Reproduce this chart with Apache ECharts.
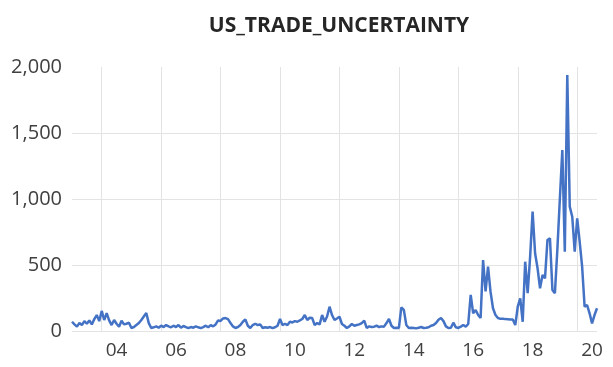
<!DOCTYPE html>
<html>
<head>
<meta charset="utf-8">
<script src="https://cdn.jsdelivr.net/npm/echarts@6/dist/echarts.min.js"></script>
<style>
html,body{margin:0;padding:0;background:#fff;}
#c{width:613px;height:367px;}
</style>
</head>
<body>
<div id="c"></div>
<script>
// Monthly series, Jan 2003 .. Sep 2020
var startYear = 2003;
var monthCount = 213;
var tradeUncertainty = [
  70, 50, 33, 60, 45, 75, 55, 80, 50, 90, 121, 75,
  152, 83, 136, 80, 45, 83, 55, 33, 78, 50, 55, 63,
  23, 30, 45, 60, 83, 110, 136, 60, 23, 28, 35, 25,
  40, 30, 45, 35, 28, 40, 30, 45, 25, 38, 30, 22,
  30, 25, 35, 28, 22, 30, 40, 28, 45, 35, 50, 80,
  76, 95, 98, 90, 60, 35, 23, 30, 45, 70, 88, 40,
  23, 45, 55, 45, 50, 23, 28, 25, 30, 22, 28, 40,
  91, 45, 55, 45, 70, 65, 75, 70, 80, 91, 121, 83,
  100, 98, 45, 60, 50, 121, 70, 110, 184, 121, 83, 95,
  108, 53, 40, 23, 35, 53, 40, 45, 50, 60, 78, 23,
  35, 30, 33, 40, 30, 35, 33, 60, 91, 40, 23, 25,
  23, 179, 160, 45, 23, 25, 23, 20, 25, 30, 23, 25,
  28, 40, 45, 60, 85, 98, 75, 35, 23, 25, 63, 28,
  23, 33, 45, 33, 53, 273, 134, 159, 121, 98, 538, 300,
  487, 298, 172, 121, 98, 92, 92, 90, 89, 88, 88, 45,
  184, 248, 70, 525, 286, 563, 904, 589, 475, 323, 424, 399,
  690, 703, 311, 286, 620, 1000, 1371, 601, 1939, 942, 866, 601,
  854, 677, 487, 184, 197, 134, 58, 121, 172
];
var yTicks = [0, 500, 1000, 1500, 2000];
var xTickYears = ['04', '06', '08', '10', '12', '14', '16', '18', '20'];

var categories = [];
for (var i = 0; i < monthCount; i++) {
  var y = startYear + Math.floor(i / 12);
  var m = (i % 12) + 1;
  categories.push(y + '-' + (m < 10 ? '0' + m : m));
}
function isEvenYearJan(v) {
  var p = v.split('-');
  return p[1] === '01' && xTickYears.indexOf(p[0].slice(2)) >= 0;
}
function isLabelMonth(v) {
  var p = v.split('-');
  return p[1] === '07' && xTickYears.indexOf(p[0].slice(2)) >= 0;
}

var chart = echarts.init(document.getElementById('c'), null, {renderer: 'canvas'});
chart.setOption({
  animation: false,
  backgroundColor: '#ffffff',
  title: {
    text: 'US_TRADE_UNCERTAINTY',
    left: 334,
    textAlign: 'center',
    top: 11,
    textStyle: {
      fontFamily: 'Open Sans',
      fontWeight: 'bold',
      fontSize: 21,
      color: '#262626'
    }
  },
  grid: {left: 72, right: 16, top: 67, bottom: 36, containLabel: false},
  xAxis: {
    type: 'category',
    data: categories,
    boundaryGap: false,
    axisLine: {show: false},
    axisTick: {show: false},
    axisLabel: {
      interval: function (idx, v) { return isLabelMonth(v); },
      formatter: function (v) { return v.slice(2, 4); },
      fontFamily: 'Open Sans',
      fontSize: 19,
      color: '#404040',
      margin: 10
    },
    splitLine: {
      show: true,
      interval: function (idx, v) { return isEvenYearJan(v); },
      lineStyle: {color: '#e3e3e3', width: 1}
    }
  },
  yAxis: {
    type: 'value',
    min: yTicks[0],
    max: yTicks[yTicks.length - 1],
    interval: 500,
    axisLine: {show: false},
    axisTick: {show: false},
    axisLabel: {
      fontFamily: 'Open Sans',
      fontSize: 20,
      color: '#404040',
      margin: 10,
      padding: [0, 0, 6, 0],
      formatter: function (v) { return v.toLocaleString('en-US'); }
    },
    splitLine: {
      show: true,
      lineStyle: {color: ['#e3e3e3', '#e3e3e3', '#e3e3e3', '#e3e3e3', 'rgba(0,0,0,0)'], width: 1}
    }
  },
  series: [{
    type: 'line',
    data: tradeUncertainty,
    showSymbol: false,
    symbol: 'none',
    lineStyle: {color: '#4472C4', width: 2.5},
    itemStyle: {color: '#4472C4'}
  }]
});
</script>
</body>
</html>
